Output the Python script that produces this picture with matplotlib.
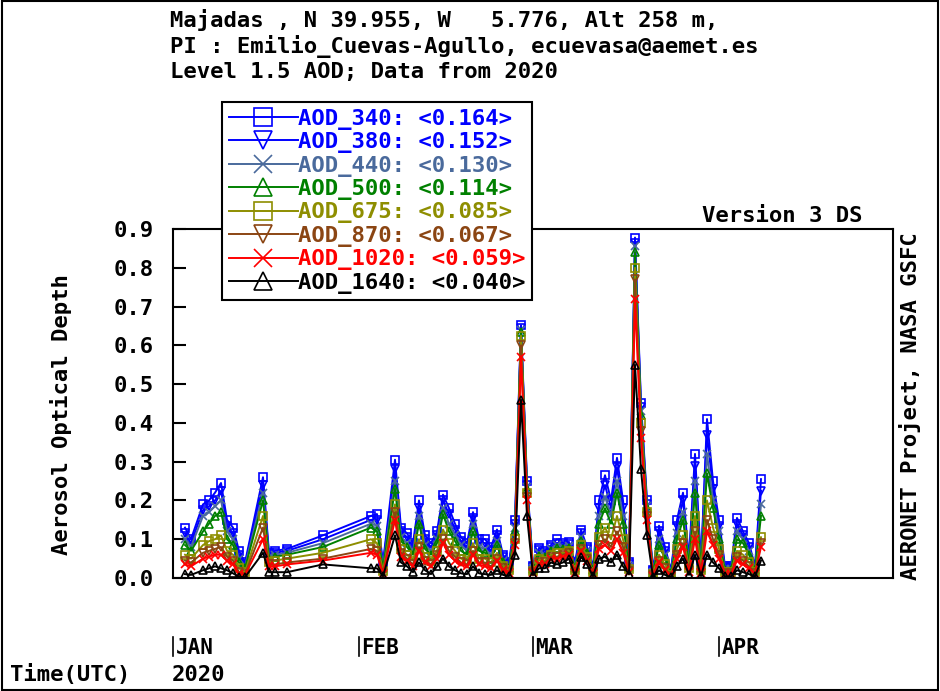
import numpy as np
import matplotlib
matplotlib.use("Agg")
import matplotlib.pyplot as plt
from matplotlib.transforms import blended_transform_factory
from matplotlib.patches import Rectangle

# days since 1 Jan 2020 (daily averages)
days = [2, 3, 5, 6, 7, 8, 9, 10, 11, 12, 15, 16, 17, 19, 25, 33, 34, 35, 37, 38,
        39, 40, 41, 42, 43, 44, 45, 46, 47, 48, 49, 50, 51, 52, 53, 54, 55, 56, 57, 58,
        59, 60, 61, 62, 63, 64, 65, 66, 67, 68, 69, 70, 71, 72, 73, 74, 75, 76, 77, 78,
        79, 80, 81, 82, 83, 84, 85, 86, 87, 88, 89, 90, 91, 92, 93, 94, 95, 96, 97, 98]

aod_340 = [.130, .100, .190, .200, .220, .245, .150, .130, .070, .040, .260, .065, .070, .075, .110, .160, .165, .040, .305, .130,
           .115, .090, .200, .110, .090, .120, .215, .180, .140, .105, .090, .170, .100, .100, .080, .125, .060, .040, .150, .652,
           .250, .030, .078, .070, .085, .100, .090, .093, .040, .125, .080, .030, .200, .265, .200, .310, .200, .040, .878, .450,
           .200, .020, .135, .080, .020, .150, .220, .050, .320, .040, .410, .250, .150, .030, .030, .155, .120, .090, .030, .255]
aod_380 = [.115, .090, .175, .185, .200, .225, .135, .115, .060, .035, .240, .060, .065, .070, .100, .150, .150, .035, .280, .120,
           .105, .080, .180, .100, .080, .110, .200, .165, .125, .095, .080, .155, .090, .090, .070, .110, .055, .035, .140, .645,
           .240, .028, .072, .065, .080, .090, .085, .088, .035, .115, .075, .025, .180, .240, .180, .285, .180, .035, .865, .440,
           .190, .018, .120, .070, .018, .135, .200, .045, .290, .035, .370, .230, .135, .027, .027, .140, .110, .080, .027, .225]
aod_440 = [.100, .080, .160, .170, .185, .200, .120, .100, .050, .030, .220, .055, .060, .065, .090, .140, .135, .030, .250, .105,
           .090, .070, .160, .085, .070, .100, .180, .140, .110, .085, .070, .140, .080, .075, .060, .095, .045, .030, .130, .640,
           .235, .025, .065, .060, .075, .085, .080, .082, .030, .105, .070, .022, .160, .210, .160, .250, .160, .032, .855, .430,
           .185, .016, .100, .060, .015, .115, .170, .040, .250, .030, .320, .200, .120, .023, .023, .120, .100, .070, .023, .190]
aod_500 = [.085, .070, .120, .140, .160, .170, .100, .085, .040, .025, .200, .050, .055, .060, .080, .130, .120, .025, .230, .095,
           .080, .060, .140, .075, .060, .090, .165, .120, .095, .070, .060, .120, .070, .065, .050, .085, .040, .025, .120, .635,
           .230, .022, .058, .055, .070, .078, .075, .078, .025, .095, .065, .020, .140, .180, .140, .220, .140, .028, .840, .420,
           .180, .014, .085, .050, .012, .100, .150, .035, .220, .026, .270, .180, .100, .020, .020, .100, .090, .060, .020, .160]
aod_675 = [.060, .050, .085, .095, .100, .110, .070, .060, .025, .015, .160, .040, .045, .050, .065, .100, .090, .018, .190, .075,
           .060, .045, .100, .055, .045, .070, .125, .090, .070, .050, .045, .090, .050, .050, .040, .065, .030, .020, .100, .625,
           .220, .018, .048, .045, .060, .065, .065, .070, .020, .085, .055, .015, .105, .130, .100, .160, .100, .022, .800, .400,
           .170, .010, .060, .035, .008, .075, .110, .025, .160, .020, .200, .130, .075, .015, .015, .070, .060, .040, .015, .105]
aod_870 = [.045, .040, .065, .070, .075, .080, .055, .045, .015, .010, .130, .035, .035, .040, .050, .075, .070, .012, .170, .065,
           .050, .035, .080, .045, .035, .060, .100, .070, .055, .040, .035, .070, .040, .040, .030, .050, .025, .015, .090, .600,
           .210, .015, .040, .040, .055, .055, .060, .065, .015, .075, .050, .012, .085, .100, .080, .120, .080, .018, .770, .380,
           .160, .008, .045, .025, .006, .060, .090, .020, .120, .015, .150, .100, .060, .012, .012, .055, .045, .030, .012, .090]
aod_1020 = [.035, .030, .050, .055, .060, .060, .045, .035, .010, .008, .100, .030, .030, .035, .045, .065, .060, .010, .150, .055,
            .045, .030, .070, .040, .030, .050, .090, .060, .045, .035, .030, .060, .035, .030, .025, .045, .020, .012, .085, .570,
            .200, .012, .035, .035, .050, .050, .055, .060, .012, .070, .045, .010, .075, .085, .070, .100, .065, .015, .720, .360,
            .150, .006, .040, .020, .005, .050, .080, .015, .100, .012, .120, .085, .050, .010, .010, .045, .035, .025, .010, .080]
aod_1640 = [.010, .008, .020, .025, .030, .025, .020, .012, .003, .002, .065, .015, .015, .015, .035, .025, .025, .005, .110, .040,
            .030, .015, .040, .020, .010, .030, .050, .030, .020, .012, .010, .030, .012, .010, .008, .020, .008, .005, .060, .460,
            .160, .008, .025, .025, .040, .035, .040, .050, .006, .055, .035, .005, .050, .055, .040, .060, .030, .010, .550, .280,
            .110, .003, .020, .008, .002, .030, .050, .008, .060, .005, .060, .040, .025, .004, .004, .020, .015, .010, .004, .045]

series = [
    ("AOD_340: <0.164>", aod_340, "#0000ff", "s"),
    ("AOD_380: <0.152>", aod_380, "#0000ff", "v"),
    ("AOD_440: <0.130>", aod_440, "#4a6a9c", "x"),
    ("AOD_500: <0.114>", aod_500, "#008000", "^"),
    ("AOD_675: <0.085>", aod_675, "#8e8e00", "s"),
    ("AOD_870: <0.067>", aod_870, "#8b4513", "v"),
    ("AOD_1020: <0.059>", aod_1020, "#ff0000", "x"),
    ("AOD_1640: <0.040>", aod_1640, "#000000", "^"),
]

month_days = [0, 31, 60, 91]
month_names = ["JAN", "FEB", "MAR", "APR"]

mono = "DejaVu Sans Mono"
plt.rcParams["font.family"] = mono
plt.rcParams["font.weight"] = "bold"
plt.rcParams["axes.labelweight"] = "bold"

W, H = 940, 691
fig = plt.figure(figsize=(9.4, 6.91), dpi=100)
ax = fig.add_axes([173 / W, 1 - 578 / H, 720 / W, 349 / H])

for label, vals, col, mk in series:
    ax.plot(days, vals, color=col, lw=1.4, marker=mk, ms=5.5, mfc="none",
            mec=col, mew=1.2, label=label)

ax.set_xlim(0, 120)
ax.set_ylim(0, 0.9)
ax.set_yticks(np.arange(0, 0.91, 0.1))
ax.set_yticklabels([f"{v:.1f}" for v in np.arange(0, 0.91, 0.1)])
ax.tick_params(axis="y", direction="in", length=9, width=1.5, pad=14, labelsize=16)
ax.set_xticks([])
for s in ax.spines.values():
    s.set_linewidth(1.5)

# month labels below the axes
trans = blended_transform_factory(ax.transData, fig.transFigure)
for d, name in zip(month_days, month_names):
    ax.plot([d, d], [1 - 637 / H, 1 - 656 / H], color="black", lw=1.2,
            transform=trans, clip_on=False)
    ax.text(d + 0.4, 1 - 648 / H, name, transform=trans, fontsize=15,
            ha="left", va="center")

ax.set_ylabel("Aerosol Optical Depth", fontsize=16, fontweight="bold")
ax.yaxis.set_label_coords(72 / W, 1 - 415 / H, transform=fig.transFigure)

fig.text(910 / W, 1 - 406 / H, "AERONET Project, NASA GSFC", rotation=90,
         fontsize=16, ha="center", va="center")
fig.text(862 / W, 1 - 216 / H, "Version 3 DS", fontsize=16, ha="right", va="center")

title = ["Majadas , N 39.955, W   5.776, Alt 258 m,",
         "PI : Emilio_Cuevas-Agullo, ecuevasa@aemet.es",
         "Level 1.5 AOD; Data from 2020"]
for i, t in enumerate(title):
    fig.text(170 / W, 1 - (20 + 26 * i) / H, t, fontsize=16, ha="left", va="center")

fig.text(10 / W, 1 - 675 / H, "Time(UTC)", fontsize=16, ha="left", va="center")
fig.text(172 / W, 1 - 675 / H, "2020", fontsize=16, ha="left", va="center")

leg = ax.legend(loc="upper left", bbox_to_anchor=(222 / W, 1 - 102 / H),
                bbox_transform=fig.transFigure, fontsize=16, frameon=True,
                fancybox=False, edgecolor="black", framealpha=1,
                borderpad=0.3, labelspacing=0.11, handlelength=3.1,
                handletextpad=0.0, borderaxespad=0, markerscale=2.4)
leg.get_frame().set_linewidth(1.5)
for txt, (_, _, col, _) in zip(leg.get_texts(), series):
    txt.set_color(col)

fig.patches.append(Rectangle((0.002, 0.002), 0.996, 0.996, transform=fig.transFigure,
                             fill=False, edgecolor="black", lw=1.5))

fig.savefig("out.png", dpi=100)
